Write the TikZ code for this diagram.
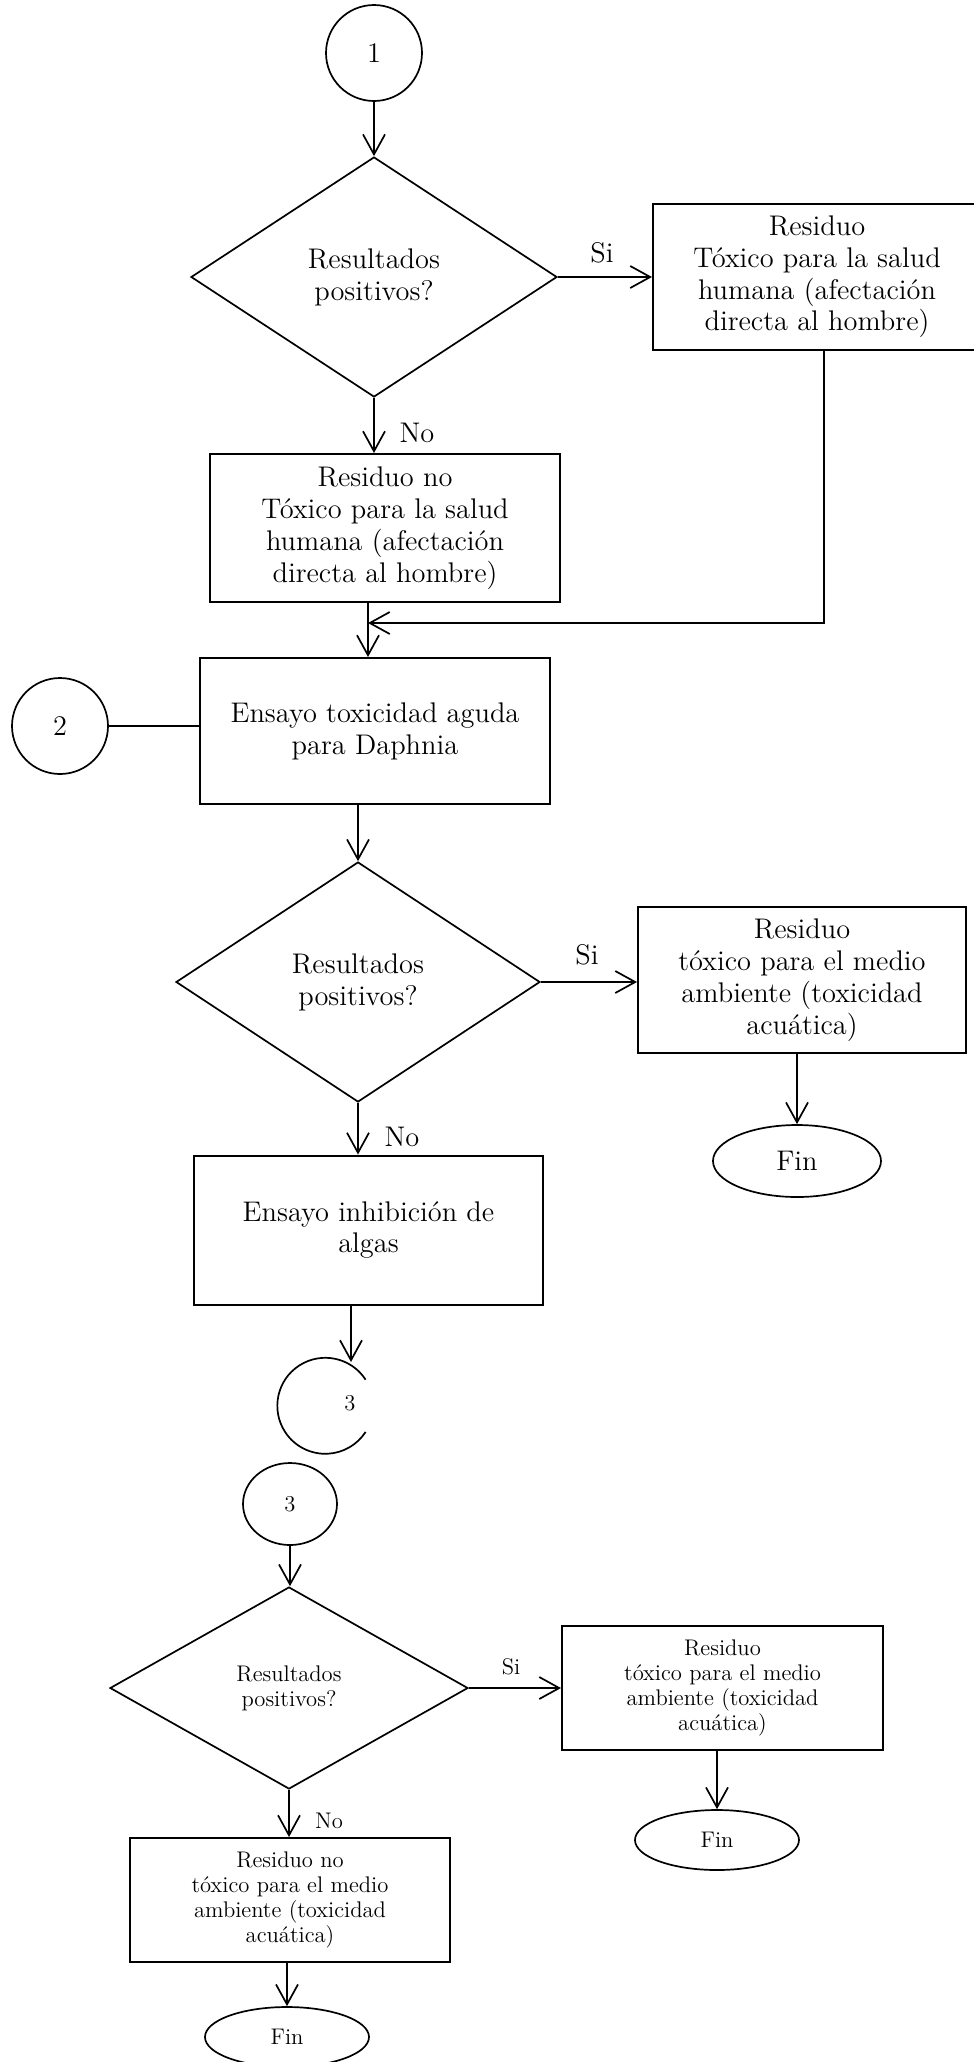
\documentclass[tikz,border=0pt]{standalone}
\usetikzlibrary{shapes.geometric,arrows.meta}
\begin{document}
\begin{tikzpicture}[x=0.5pt,y=0.5pt,
  every node/.style={inner sep=0pt},
  big/.style={font=\fontsize{14.2}{15.9}\selectfont},
  small/.style={font=\fontsize{11.3}{12.65}\selectfont},
  box/.style={draw, rectangle, line width=1pt, align=center},
  dec/.style={draw, diamond, line width=0.85pt, align=center},
  conn/.style={draw, circle, line width=0.85pt},
  term/.style={draw, ellipse, line width=0.85pt},
  arr/.style={line width=0.85pt, -{Straight Barb[length=10pt,width=11pt]}},
  ln/.style={line width=0.85pt}]
\useasboundingbox (0,0) rectangle (974,-2062);

% top section
\node[conn,big,minimum size=48pt] (c1) at (374,-53) {1};
\node[dec,big,minimum width=183pt,minimum height=120pt] (d1) at (374,-277) {Resultados\\positivos?};
\node[box,big,minimum width=164pt,minimum height=73pt] (b1) at (817,-277) {Residuo\\Tóxico para la salud\\humana (afectación\\directa al hombre)};
\node[big] (si1) at (602,-253) {Si};
\node[box,big,minimum width=175pt,minimum height=74pt] (b2) at (385,-528) {Residuo no\\Tóxico para la salud\\humana (afectación\\directa al hombre)};
\node[big] (no1) at (417,-433) {No};
\coordinate (j1) at (368,-623);
\node[box,big,minimum width=175pt,minimum height=73pt] (b3) at (375,-731) {Ensayo toxicidad aguda\\para Daphnia};
\node[conn,big,minimum size=48pt] (c2) at (60,-726) {2};

% middle section
\node[dec,big,minimum width=182pt,minimum height=120pt] (d2) at (358,-982) {Resultados\\positivos?};
\node[box,big,minimum width=164pt,minimum height=73pt] (b4) at (802,-980) {Residuo\\tóxico para el medio\\ambiente (toxicidad\\acuática)};
\node[big] (si2) at (587,-955) {Si};
\node[term,big,minimum width=84pt,minimum height=36pt] (f1) at (797,-1161) {Fin};
\node[big] (no2) at (402,-1137) {No};
\node[box,big,minimum width=174.5pt,minimum height=74.5pt] (b5) at (368.5,-1230) {Ensayo inhibición de\\algas};
\node[circle,minimum size=48pt] (cc) at (325,-1406) {};
\draw[ln] (cc.33) arc[start angle=33,end angle=327,radius=24pt];
\node[small] (n3a) at (350,-1403) {3};
\coordinate (cct) at (351,-1362);

% bottom section
\node[term,small,minimum width=47pt,minimum height=41pt] (c3) at (290,-1504) {3};
\node[dec,small,minimum width=179pt,minimum height=101pt] (d3) at (289,-1688) {Resultados\\positivos?};
\node[box,small,minimum width=160.5pt,minimum height=62pt] (b6) at (722.5,-1688) {Residuo\\tóxico para el medio\\ambiente (toxicidad\\acuática)};
\node[small] (si3) at (511,-1667) {Si};
\node[term,small,minimum width=82pt,minimum height=30pt] (f2) at (717,-1840) {Fin};
\node[small] (no3) at (329,-1821) {No};
\node[box,small,minimum width=160pt,minimum height=62pt] (b7) at (290,-1900) {Residuo no\\tóxico para el medio\\ambiente (toxicidad\\acuática)};
\node[term,small,minimum width=82pt,minimum height=30pt] (f3) at (287,-2037) {Fin};

% connectors
\draw[arr] (c1) -- (d1);
\draw[arr] (d1.east) -- (d1.east -| b1.west);
\draw[arr] (d1.south) -- (d1.south |- b2.north);
\draw[arr] ([xshift=3.5pt]b1.south) |- (j1);
\draw[arr] (b2.south -| j1) -- (b3.north -| j1);
\draw[ln] (c2.east) -- (c2.east -| b3.west);
\draw[arr] (b3.south -| d2.north) -- (d2.north);
\draw[arr] (d2.east) -- (d2.east -| b4.west);
\draw[arr] (b4.south -| f1.north) -- (f1.north);
\draw[arr] (d2.south) -- (d2.south |- b5.north);
\draw[arr] (b5.south -| cct) -- (cct);
\draw[arr] (c3.south) -- (c3.south |- d3.north);
\draw[arr] (d3.east) -- (d3.east -| b6.west);
\draw[arr] (b6.south -| f2.north) -- (f2.north);
\draw[arr] (d3.south) -- (d3.south |- b7.north);
\draw[arr] (b7.south -| f3.north) -- (f3.north);
\end{tikzpicture}
\end{document}
